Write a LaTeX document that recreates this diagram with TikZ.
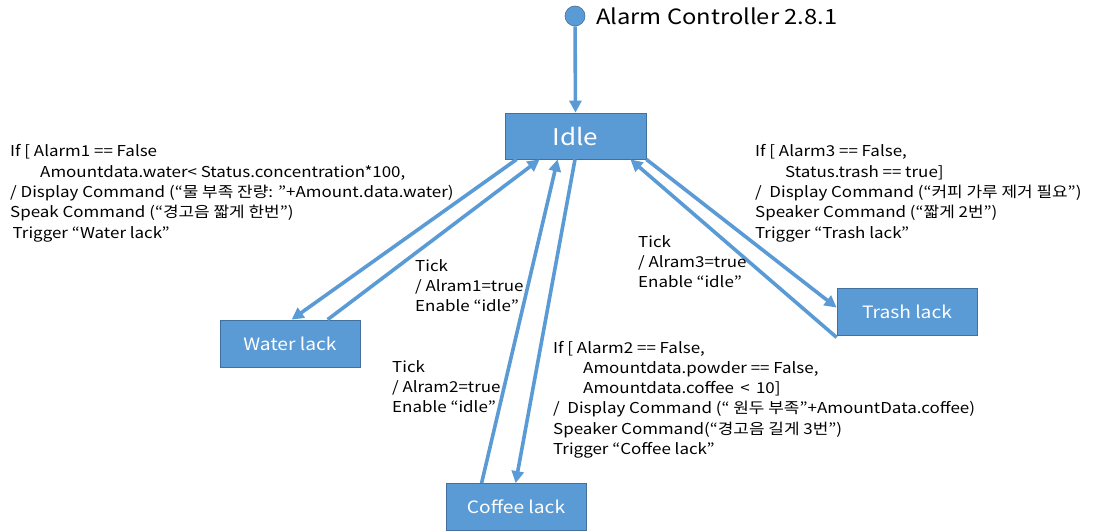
\documentclass[tikz,border=0pt]{standalone}
\usepackage{fontspec}
\setmainfont{Noto Sans CJK KR}[FakeStretch=1.13]
\usetikzlibrary{arrows.meta}
\definecolor{sblue}{HTML}{5B9BD5}
\definecolor{sedge}{HTML}{41719C}
\tikzset{
  statebox/.style={draw=sedge, line width=0.8pt, fill=sblue, text=white, minimum width=140pt, minimum height=47pt, inner sep=0pt, font=\fontsize{17}{20}\selectfont},
  trans/.style={draw=sblue, line width=3.6pt, -{Triangle[length=12pt,width=12pt]}, shorten >=0pt},
  lbl/.style={anchor=base west, align=left, inner sep=0pt, font=\fontsize{15}{20.3}\selectfont},
}
\newcommand{\ind}{\hspace*{30pt}}
\begin{document}
\begin{tikzpicture}[x=1pt,y=-1pt]
\useasboundingbox (0,0) rectangle (1104,532);
% start
\node[circle, fill=sblue, draw=sedge, line width=0.6pt, minimum size=20pt, inner sep=0pt] (start) at (575,16) {};
\node[anchor=base west, inner sep=0pt, font=\fontsize{21}{24}\selectfont] (title) at (596,25) {Alarm Controller 2.8.1};
% states
\node[statebox, font=\fontsize{23}{26}\selectfont, minimum width=141pt, minimum height=46pt] (idle) at (575.5,136) {Idle};
\node[statebox] (water) at (290,343.5) {Water lack};
\node[statebox] (coffee) at (516,507) {Coffee lack};
\node[statebox] (trash) at (907,311.5) {Trash lack};
% connectors
\draw[trans] (start) -- (idle.north);
\draw[trans] ([xshift=12pt]idle.south west) -- ([xshift=72pt]water.north west);
\draw[trans] ([xshift=108pt]water.north west) -- ([xshift=35pt]idle.south west);
\draw[trans] ([xshift=36pt]coffee.north west) -- ([xshift=53pt]idle.south west);
\draw[trans] ([xshift=-0.5pt]idle.south) -- ([xshift=70pt]coffee.north west);
\draw[trans] (idle.south east) -- ([yshift=-20pt]trash.north west);
\draw[trans] ([yshift=-2pt]trash.south west) -- ([xshift=-16pt]idle.south east);
% labels (anchor = baseline of last line)
\node[lbl] (wcond) at (10,238.2) {If [ Alarm1 == False\\
\ind Amountdata.water< Status.concentration*100,\\
/ Display Command (“물 부족 잔량: ”+Amount.data.water)\\
Speak Command (“경고음 짧게 한번”)\\
\,Trigger “Water lack”};
\node[lbl] (wtick) at (415,311.6) {Tick\\ / Alram1=true\\ Enable “idle”};
\node[lbl] (ctick) at (392,412.6) {Tick\\ / Alram2=true\\ Enable “idle”};
\node[lbl] (ttick) at (638,287.6) {Tick\\ / Alram3=true\\ Enable “idle”};
\node[lbl] (ccond) at (553,454.5) {If [ Alarm2 == False,\\
\ind Amountdata.powder == False,\\
\ind Amountdata.coffee \,< \,10]\\
/ \ Display Command (“ 원두 부족”+AmountData.coffee)\\
Speaker Command(“경고음 길게 3번”)\\
Trigger “Coffee lack”};
\node[lbl] (tcond) at (755,238.2) {If [ Alarm3 == False,\\
\ind Status.trash == true]\\
/ \ Display Command (“커피 가루 제거 필요”)\\
Speaker Command (“짧게 2번”)\\
Trigger “Trash lack”};
\end{tikzpicture}
\end{document}
